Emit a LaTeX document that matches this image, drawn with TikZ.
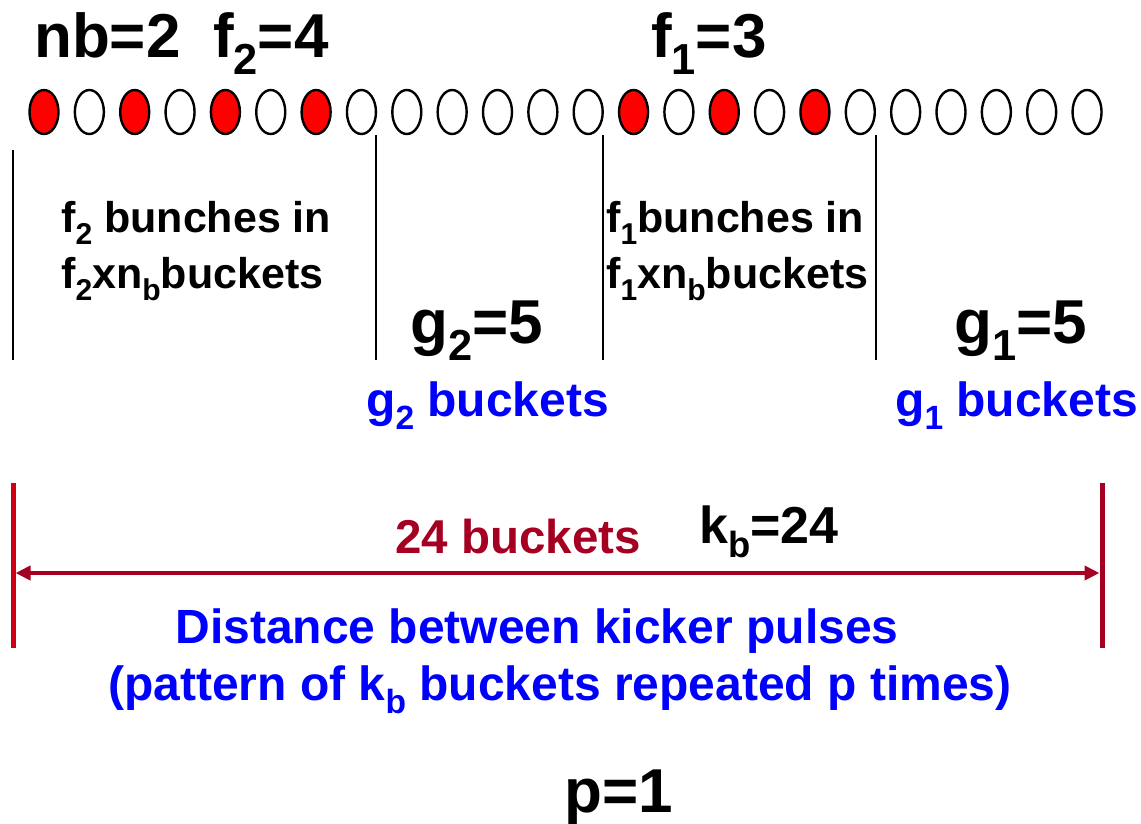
\documentclass[tikz,border=0pt]{standalone}
\usepackage{fontspec}
\setmainfont{Liberation Sans}
\usetikzlibrary{shapes.geometric,arrows.meta}
\definecolor{dred}{RGB}{165,0,33}
\definecolor{bred}{RGB}{208,0,20}
\definecolor{bblue}{RGB}{0,0,255}
\newcommand\sbx[1]{\raisebox{-0.28em}{\scalebox{0.7}{#1}}}
\begin{document}
\begin{tikzpicture}[x=1pt,y=-1pt,
  lbl/.style={inner sep=0pt, anchor=base west},
  ctr/.style={inner sep=0pt, anchor=base},
  big/.style={font=\bfseries\fontsize{62}{62}\selectfont},
  mid/.style={font=\bfseries\fontsize{43}{43}\selectfont},
  blu/.style={font=\bfseries\fontsize{48}{48}\selectfont, text=bblue},
  bucket/.style={ellipse, draw, line width=2.4pt, minimum width=29pt, minimum height=44pt, inner sep=0pt},
  full/.style={bucket, fill=red},
  sepline/.style={line width=1.3pt},
  bar/.style={line width=5pt},
  ]
\useasboundingbox (0,0) rectangle (1141,823);

% top labels
\node[lbl, big] (nb) at (34,57) {nb=2};
\node[lbl, big] (f2) at (213,57) {f\sbx{2}=4};
\node[lbl, big] (f1) at (651,57) {f\sbx{1}=3};

% buckets
\foreach \i/\s in {0/full,1/bucket,2/full,3/bucket,4/full,5/bucket,6/full,7/bucket,
  8/bucket,9/bucket,10/bucket,11/bucket,12/bucket,13/full,14/bucket,15/full,16/bucket,
  17/full,18/bucket,19/bucket,20/bucket,21/bucket,22/bucket,23/bucket}
  \node[\s] (b\i) at ({44+\i*45.35},112) {};

% separators
\coordinate (s0t) at (13,150);  \coordinate (s0b) at (13,360);
\coordinate (s1t) at (376,135); \coordinate (s1b) at (376,360);
\coordinate (s2t) at (603,135); \coordinate (s2b) at (603,360);
\coordinate (s3t) at (876,135); \coordinate (s3b) at (876,360);
\foreach \k in {0,1,2,3} \draw[sepline] (s\k t) -- (s\k b);

% region labels
\node[lbl, mid] (l2a) at (61,232) {f\sbx{2} bunches in};
\node[lbl, mid] (l2b) at (61,288) {f\sbx{2}xn\sbx{b}buckets};
\node[lbl, mid] (l1a) at (606,232) {f\sbx{1}bunches in};
\node[lbl, mid] (l1b) at (606,288) {f\sbx{1}xn\sbx{b}buckets};

\node[lbl, big] (g2) at (410,343) {g\sbx{2}=5};
\node[lbl, big] (g1) at (954,343) {g\sbx{1}=5};
\node[lbl, blu] (g2b) at (366,416) {g\sbx{2} buckets};
\node[lbl, blu] (g1b) at (895,416) {g\sbx{1} buckets};

% kicker distance
\coordinate (lbt) at (13,483); \coordinate (lbb) at (13,648);
\coordinate (rbt) at (1102,483); \coordinate (rbb) at (1102,648);
\draw[bar, bred] (lbt) -- (lbb);
\draw[bar, dred] (rbt) -- (rbb);
\coordinate (la) at (15.5,573); \coordinate (ra) at (1099.5,573);
\draw[dred, line width=4pt, {Triangle[length=15pt,width=14pt]}-{Triangle[length=15pt,width=14pt]}] (la) -- (ra);

\node[lbl, font=\bfseries\fontsize{47.5}{47.5}\selectfont, text=dred] (b24) at (395,553) {24 buckets};
\node[lbl, font=\bfseries\fontsize{52}{52}\selectfont] (kb) at (699,543) {k\sbx{b}=24};

\node[ctr, blu] (dist) at (537,643) {Distance between kicker pulses};
\node[ctr, blu] (patt) at (560,700) {(pattern of k\sbx{b} buckets repeated p times)};

\node[lbl, big] (p) at (564,812) {p=1};
\end{tikzpicture}
\end{document}
